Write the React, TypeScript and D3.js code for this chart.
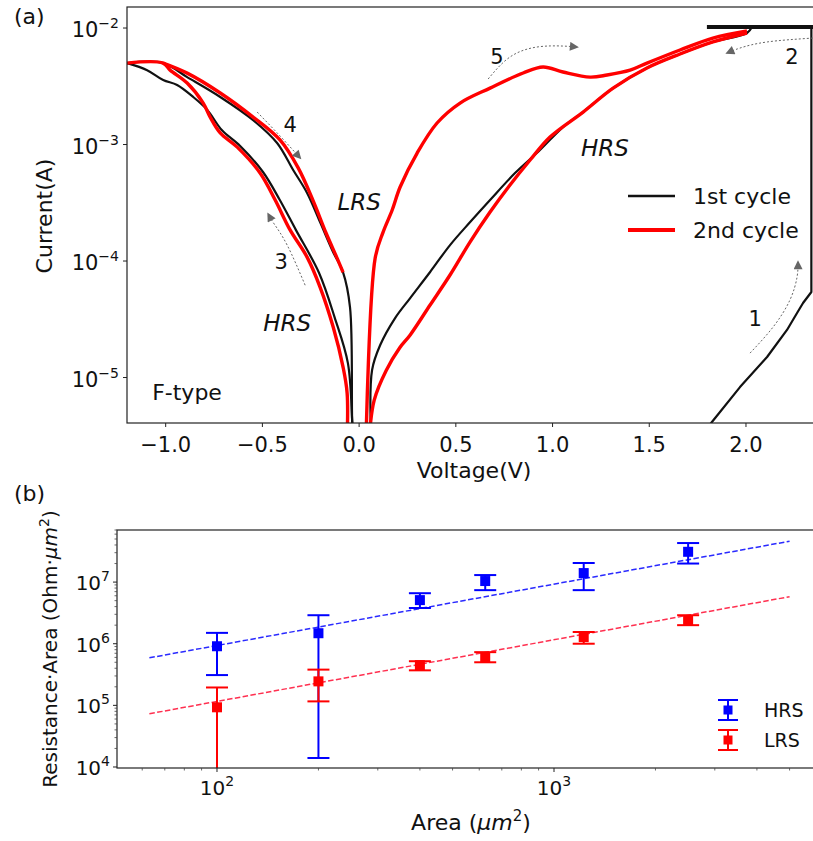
import * as d3 from "d3";

type Pt = [number, number];

// ---- panel (a): I–V sweeps, [voltage (V), current (A)] ----
const cycle1NegHrs: Pt[] = [
  [-1.199, 5.0e-3], [-1.096, 4.35e-3], [-1.013, 3.58e-3], [-0.941, 3.24e-3], [-0.858, 2.56e-3],
  [-0.785, 1.98e-3], [-0.71, 1.33e-3], [-0.615, 9.7e-4], [-0.497, 5.81e-4], [-0.41, 3.34e-4],
  [-0.327, 1.85e-4], [-0.207, 7.9e-5], [-0.127, 3.3e-5], [-0.058, 1.33e-5], [-0.036, 4.3e-6], [-0.031, 3e-6]
];
const cycle1NegLrs: Pt[] = [
  [-1.199, 5.0e-3], [-1.013, 5.0e-3], [-0.889, 3.79e-3], [-0.718, 2.56e-3], [-0.548, 1.62e-3],
  [-0.424, 1.03e-3], [-0.341, 6.04e-4], [-0.269, 3.84e-4], [-0.202, 2.16e-4], [-0.134, 1.19e-4],
  [-0.083, 8.0e-5], [-0.047, 4.0e-5], [-0.036, 4.3e-6], [-0.031, 3e-6]
];
const cycle1PosHrs: Pt[] = [
  [0.062, 3e-6], [0.067, 1.16e-5], [0.109, 1.9e-5], [0.186, 3.24e-5], [0.264, 4.81e-5], [0.367, 8.05e-5],
  [0.47, 1.37e-4], [0.574, 2.16e-4], [0.677, 3.34e-4], [0.806, 5.69e-4], [0.935, 8.97e-4], [1.054, 1.41e-3],
  [1.158, 1.9e-3], [1.313, 3.05e-3], [1.488, 4.54e-3], [1.659, 5.98e-3], [1.829, 7.59e-3], [2.005, 9.06e-3],
  [2.031, 1.02e-2]
];
const cycle1Forming: Pt[] = [
  [1.757, 3e-6], [1.824, 4.15e-6], [1.969, 8.28e-6], [2.109, 1.5e-5], [2.212, 2.56e-5], [2.264, 3.58e-5],
  [2.295, 4.36e-5], [2.338, 5.42e-5], [2.338, 1.02e-2]
];
const cycle1Compliance: Pt[] = [[1.798, 1.02e-2], [2.4, 1.02e-2]];

const cycle2NegHrs: Pt[] = [
  [-1.2, 5.0e-3], [-1.013, 5.0e-3], [-0.977, 4.35e-3], [-0.889, 3.37e-3], [-0.806, 2.27e-3], [-0.77, 1.72e-3],
  [-0.718, 1.26e-3], [-0.63, 9.5e-4], [-0.512, 5.7e-4], [-0.434, 3.34e-4], [-0.357, 1.85e-4], [-0.269, 1.08e-4],
  [-0.202, 5.98e-5], [-0.134, 2.71e-5], [-0.083, 1.23e-5], [-0.062, 7.36e-6], [-0.062, 3e-6]
];
const cycle2NegLrs: Pt[] = [
  [-1.013, 5.0e-3], [-0.889, 4.1e-3], [-0.718, 2.77e-3], [-0.548, 1.72e-3], [-0.408, 1.09e-3], [-0.315, 6.3e-4],
  [-0.238, 3.3e-4], [-0.171, 1.74e-4], [-0.114, 1.06e-4], [-0.083, 8.0e-5]
];
const cycle2PosLrs: Pt[] = [
  [0.036, 3e-6], [0.083, 1.06e-4], [0.124, 1.77e-4], [0.171, 2.74e-4], [0.212, 4.32e-4], [0.3, 8.45e-4],
  [0.403, 1.53e-3], [0.522, 2.27e-3], [0.677, 3.05e-3], [0.848, 4.11e-3], [0.951, 4.63e-3], [1.054, 4.19e-3],
  [1.194, 3.79e-3], [1.282, 3.95e-3], [1.401, 4.35e-3], [1.488, 5.0e-3], [1.659, 6.48e-3], [1.829, 8.2e-3],
  [2.005, 9.42e-3]
];
const cycle2PosHrs: Pt[] = [
  [0.052, 3e-6], [0.078, 6.4e-6], [0.14, 1.15e-5], [0.21, 1.8e-5], [0.264, 2.32e-5], [0.367, 4.19e-5],
  [0.47, 7.58e-5], [0.574, 1.46e-4], [0.677, 2.63e-4], [0.78, 4.49e-4], [0.884, 7.36e-4], [0.987, 1.16e-3],
  [1.158, 1.9e-3], [1.313, 3.05e-3], [1.488, 4.54e-3], [1.659, 5.98e-3], [1.829, 7.59e-3], [2.005, 9.06e-3]
];

// sweep-direction arrows and their numbers
const arrowPaths: Pt[][] = [
  [[2.021, 1.62e-5], [2.14, 2.71e-5], [2.227, 4.62e-5], [2.264, 7.29e-5], [2.269, 9.8e-5]],
  [[2.346, 8.2e-3], [2.109, 7.59e-3], [1.969, 6.73e-3], [1.902, 6.1e-3]],
  [[-0.279, 6.2e-5], [-0.372, 1.37e-4], [-0.439, 2.08e-4], [-0.47, 2.53e-4]],
  [[-0.527, 1.9e-3], [-0.408, 1.18e-3], [-0.305, 7.66e-4]],
  [[0.667, 3.65e-3], [0.78, 5.64e-3], [0.92, 6.87e-3], [1.054, 7.0e-3], [1.127, 6.87e-3]]
];
const stepLabels = ["1", "2", "3", "4", "5"];
const stepLabelAt: Pt[] = [[2.047, 3.24e-5], [2.238, 5.75e-3], [-0.403, 1.0e-4], [-0.357, 1.5e-3], [0.713, 5.75e-3]];
const stateLabels = ["LRS", "HRS", "HRS"];
const stateLabelAt: Pt[] = [[0.0, 3.2e-4], [1.271, 9.3e-4], [-0.372, 2.94e-5]];

const voltageTicks = [-1.0, -0.5, 0.0, 0.5, 1.0, 1.5, 2.0];
const currentTickExps = [-2, -3, -4, -5];

// ---- panel (b): resistance·area vs device area ----
const areas = [100, 200, 400, 625, 1225, 2500];
const hrsValues = [9.1e5, 1.48e6, 5.1e6, 1.04e7, 1.4e7, 3.1e7];
const hrsUpper = [1.5e6, 2.9e6, 6.6e6, 1.3e7, 2.04e7, 4.3e7];
const hrsLower = [3.1e5, 1.4e4, 3.8e6, 7.4e6, 7.4e6, 2.0e7];
const lrsValues = [9.3e4, 2.45e5, 4.5e5, 6.0e5, 1.28e6, 2.4e6];
const lrsUpper = [1.95e5, 3.8e5, 5.2e5, 7.3e5, 1.55e6, 2.9e6];
const lrsLower = [5e2, 1.16e5, 3.7e5, 5.0e5, 1.0e6, 2.0e6];
const fitAreas = [63, 5000];
const hrsFit = [5.9e5, 4.6e7];
const lrsFit = [7.3e4, 5.8e6];
const areaTickExps = [2, 3];
const raTickExps = [4, 5, 6, 7];

const FONT = "DejaVu Sans, Verdana, sans-serif";
const A = { left: 127, top: 7, right: 822, bottom: 423 };
const B = { left: 117, top: 530, right: 822, bottom: 768 };

function Pow10({ x, y, exp, anchor, size = 20, sup = 14, raise = 8 }: {
  x: number; y: number; exp: number; anchor: "start" | "middle" | "end"; size?: number; sup?: number; raise?: number;
}) {
  return (
    <text x={x} y={y} textAnchor={anchor} fontSize={size} fontFamily={FONT} fill="#111">
      10<tspan dy={-raise} fontSize={sup}>{exp < 0 ? `\u2212${-exp}` : `${exp}`}</tspan>
    </text>
  );
}

function PanelA() {
  const x = d3.scaleLinear().domain([-1.2, 2.393]).range([A.left, A.right]);
  const y = d3.scaleLog().domain([4.07e-6, 1.515e-2]).range([A.bottom, A.top]);
  const smooth = d3.line<Pt>().x((d) => x(d[0])).y((d) => y(d[1])).curve(d3.curveCatmullRom.alpha(0.5));
  const straight = d3.line<Pt>().x((d) => x(d[0])).y((d) => y(d[1]));
  const arrow = d3.line<Pt>().x((d) => x(d[0])).y((d) => y(d[1])).curve(d3.curveNatural);
  const fmt = d3.format(".1f");
  const black = "#111";
  const red = "#ff0000";

  return (
    <g>
      <defs>
        <clipPath id="clipA">
          <rect x={A.left} y={A.top} width={A.right - A.left} height={A.bottom - A.top} />
        </clipPath>
        <marker id="head" viewBox="0 0 10 10" refX="8" refY="5" markerWidth="10" markerHeight="9" markerUnits="userSpaceOnUse" orient="auto">
          <path d="M0,0 L10,5 L0,10 z" fill="#666" />
        </marker>
      </defs>

      <g clipPath="url(#clipA)" fill="none" strokeLinejoin="round" strokeLinecap="butt">
        {[cycle1NegHrs, cycle1NegLrs, cycle1PosHrs].map((d, i) => (
          <path key={`b${i}`} d={smooth(d) ?? ""} stroke={black} strokeWidth={2.2} />
        ))}
        <path d={straight(cycle1Forming) ?? ""} stroke={black} strokeWidth={2.2} />
        <path d={straight(cycle1Compliance) ?? ""} stroke={black} strokeWidth={4} />
        {[cycle2NegHrs, cycle2NegLrs, cycle2PosLrs, cycle2PosHrs].map((d, i) => (
          <path key={`r${i}`} d={smooth(d) ?? ""} stroke={red} strokeWidth={3.4} />
        ))}
        {arrowPaths.map((d, i) => (
          <path key={`a${i}`} d={arrow(d) ?? ""} stroke="#666" strokeWidth={1} strokeDasharray="2 2" markerEnd="url(#head)" />
        ))}
      </g>

      {stepLabels.map((t, i) => (
        <text key={t} x={x(stepLabelAt[i][0])} y={y(stepLabelAt[i][1])} dy="0.36em" textAnchor="middle" fontSize={21} fontFamily={FONT} fill="#111">
          {t}
        </text>
      ))}
      {stateLabels.map((t, i) => (
        <text key={`s${i}`} x={x(stateLabelAt[i][0])} y={y(stateLabelAt[i][1])} dy="0.36em" textAnchor="middle" fontSize={23} fontStyle="italic" fontFamily={FONT} fill="#111">
          {t}
        </text>
      ))}
      <text x={x(-1.07)} y={y(7.5e-6)} dy="0.36em" fontSize={22} fontFamily={FONT} fill="#111">F-type</text>

      {/* legend */}
      <line x1={628} x2={675} y1={196} y2={196} stroke={black} strokeWidth={2.4} />
      <text x={693} y={196} dy="0.36em" fontSize={22} fontFamily={FONT} fill="#111">1st cycle</text>
      <line x1={628} x2={675} y1={230} y2={230} stroke={red} strokeWidth={4} />
      <text x={693} y={230} dy="0.36em" fontSize={22} fontFamily={FONT} fill="#111">2nd cycle</text>

      {/* axes */}
      <rect x={A.left} y={A.top} width={A.right - A.left} height={A.bottom - A.top} fill="none" stroke="#222" strokeWidth={1.2} />
      {voltageTicks.map((v) => (
        <g key={v}>
          <line x1={x(v)} x2={x(v)} y1={A.bottom} y2={A.bottom + 4} stroke="#222" />
          <text x={x(v)} y={A.bottom + 29} textAnchor="middle" fontSize={21} fontFamily={FONT} fill="#111">{fmt(v)}</text>
        </g>
      ))}
      {currentTickExps.map((e) => (
        <g key={e}>
          <line x1={A.left - 4} x2={A.left} y1={y(10 ** e)} y2={y(10 ** e)} stroke="#222" />
          <Pow10 x={A.left - 8} y={y(10 ** e) + 9} exp={e} anchor="end" size={21} sup={14} raise={9} />
        </g>
      ))}
      <text x={474} y={478} textAnchor="middle" fontSize={22} fontFamily={FONT} fill="#111">Voltage(V)</text>
      <text transform="translate(52,216) rotate(-90)" textAnchor="middle" fontSize={22} fontFamily={FONT} fill="#111">Current(A)</text>
      <text x={14} y={24} fontSize={22} fontFamily={FONT} fill="#111">(a)</text>
    </g>
  );
}

function PanelB() {
  const x = d3.scaleLog().domain([50.5, 6240]).range([B.left, B.right]);
  const y = d3.scaleLog().domain([9.63e3, 7.0e7]).range([B.bottom, B.top]);
  const minorX = x.ticks().filter((t) => Math.abs(Math.log10(t) % 1) > 1e-6);
  const minorY = y.ticks().filter((t) => Math.abs(Math.log10(t) % 1) > 1e-6);
  const blue = "#0000ff";
  const red = "#ff0000";
  const cap = 11;
  const series = [
    { color: blue, v: hrsValues, hi: hrsUpper, lo: hrsLower, fit: hrsFit, fitColor: "#2a2aff" },
    { color: red, v: lrsValues, hi: lrsUpper, lo: lrsLower, fit: lrsFit, fitColor: "#ff3050" }
  ];

  return (
    <g>
      <defs>
        <clipPath id="clipB">
          <rect x={B.left} y={B.top} width={B.right - B.left} height={B.bottom - B.top} />
        </clipPath>
      </defs>
      <g clipPath="url(#clipB)">
        {series.map((s, k) => (
          <g key={k}>
            <line
              x1={x(fitAreas[0])} x2={x(fitAreas[1])} y1={y(s.fit[0])} y2={y(s.fit[1])}
              stroke={s.fitColor} strokeWidth={1.5} strokeDasharray="5.5 2.4"
            />
            {areas.map((a, i) => {
              const cx = x(a);
              return (
                <g key={a} stroke={s.color} strokeWidth={2}>
                  <line x1={cx} x2={cx} y1={y(s.lo[i])} y2={y(s.hi[i])} />
                  <line x1={cx - cap} x2={cx + cap} y1={y(s.lo[i])} y2={y(s.lo[i])} />
                  <line x1={cx - cap} x2={cx + cap} y1={y(s.hi[i])} y2={y(s.hi[i])} />
                  <rect x={cx - 5} y={y(s.v[i]) - 5} width={10} height={10} fill={s.color} stroke="none" />
                </g>
              );
            })}
          </g>
        ))}
      </g>

      {/* legend */}
      {[{ c: blue, t: "HRS", ly: 710 }, { c: red, t: "LRS", ly: 740 }].map((l) => (
        <g key={l.t}>
          <g stroke={l.c} strokeWidth={2}>
            <line x1={728} x2={728} y1={l.ly - 10} y2={l.ly + 10} />
            <line x1={718} x2={738} y1={l.ly - 10} y2={l.ly - 10} />
            <line x1={718} x2={738} y1={l.ly + 10} y2={l.ly + 10} />
            <rect x={723.5} y={l.ly - 4.5} width={9} height={9} fill={l.c} stroke="none" />
          </g>
          <text x={764} y={l.ly} dy="0.36em" fontSize={19} fontFamily={FONT} fill="#111">{l.t}</text>
        </g>
      ))}

      {/* axes */}
      <rect x={B.left} y={B.top} width={B.right - B.left} height={B.bottom - B.top} fill="none" stroke="#222" strokeWidth={1.2} />
      {minorX.map((t) => (
        <line key={`mx${t}`} x1={x(t)} x2={x(t)} y1={B.bottom} y2={B.bottom + 2.5} stroke="#444" strokeWidth={0.8} />
      ))}
      {minorY.map((t) => (
        <line key={`my${t}`} x1={B.left - 2.5} x2={B.left} y1={y(t)} y2={y(t)} stroke="#444" strokeWidth={0.8} />
      ))}
      {areaTickExps.map((e) => (
        <g key={e}>
          <line x1={x(10 ** e)} x2={x(10 ** e)} y1={B.bottom} y2={B.bottom + 4} stroke="#222" />
          <Pow10 x={x(10 ** e)} y={B.bottom + 27} exp={e} anchor="middle" size={20} sup={14} raise={9} />
        </g>
      ))}
      {raTickExps.map((e) => (
        <g key={e}>
          <line x1={B.left - 4} x2={B.left} y1={y(10 ** e)} y2={y(10 ** e)} stroke="#222" />
          <Pow10 x={B.left - 7} y={y(10 ** e) + 8} exp={e} anchor="end" size={20} sup={14} raise={9} />
        </g>
      ))}
      <text x={471} y={830} textAnchor="middle" fontSize={22} fontFamily={FONT} fill="#111">
        Area (<tspan fontStyle="italic">μm</tspan><tspan dy={-9} fontSize={15}>2</tspan><tspan dy={9}>)</tspan>
      </text>
      <text transform="translate(57,649) rotate(-90)" textAnchor="middle" fontSize={20} fontFamily={FONT} fill="#111">
        Resistance·Area (Ohm·<tspan fontStyle="italic">μm</tspan><tspan dy={-8} fontSize={14}>2</tspan><tspan dy={8}>)</tspan>
      </text>
      <text x={14} y={501} fontSize={22} fontFamily={FONT} fill="#111">(b)</text>
    </g>
  );
}

export default function App() {
  return (
    <svg
      width={813}
      height={841}
      viewBox="0 0 813 841"
      style={{ position: "absolute", left: 0, top: 0, background: "#fff" }}
    >
      <rect width={813} height={841} fill="#fff" />
      <PanelA />
      <PanelB />
    </svg>
  );
}
